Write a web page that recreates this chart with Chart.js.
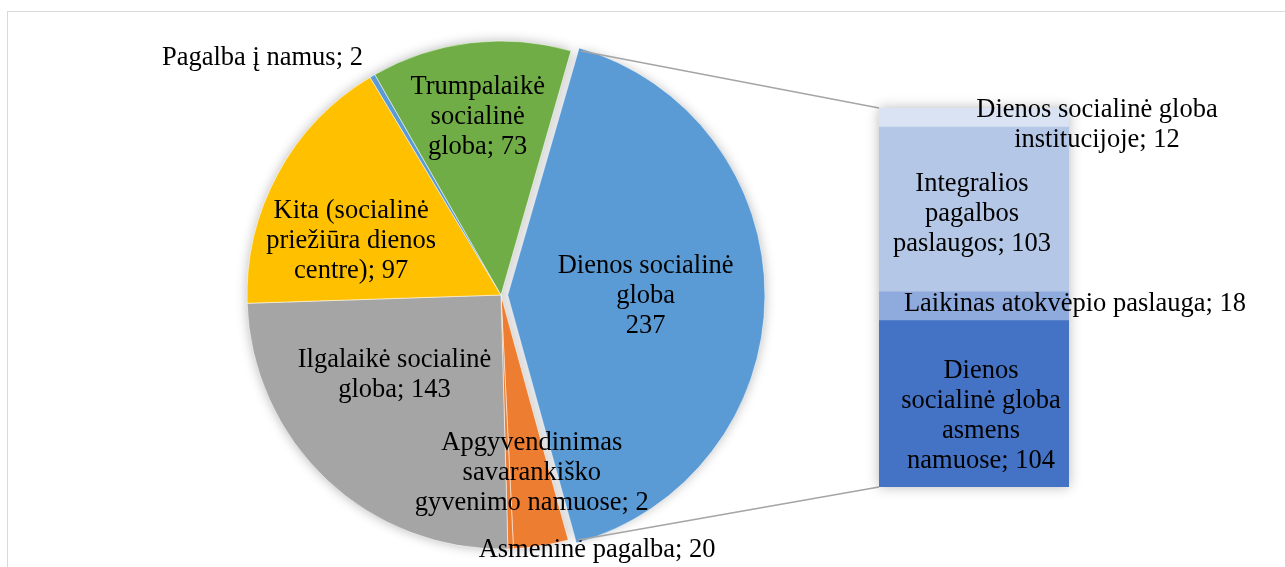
<!DOCTYPE html>
<html>
<head>
<meta charset="utf-8">
<script src="https://cdn.jsdelivr.net/npm/chart.js@4.4.0/dist/chart.umd.min.js"></script>
<style>
html, body { margin: 0; padding: 0; background: #fff; overflow: hidden; }
#wrap { position: relative; width: 1285px; height: 567px; overflow: hidden; }
#frame { position: absolute; left: 7px; top: 11px; width: 1300px; height: 600px; border: 1px solid #d9d9d9; }
canvas { position: absolute; left: 0; top: 0; }
</style>
</head>
<body>
<div id="wrap">
  <div id="frame"></div>
  <canvas id="pie" width="1285" height="567"></canvas>
  <canvas id="bar" width="1285" height="567"></canvas>
</div>
<script>
// pie slices, clockwise from the split slice
const pieCategories = ['Dienos socialinė\ngloba', 'Asmeninė pagalba', 'Apgyvendinimas\nsavarankiško\ngyvenimo namuose',
  'Ilgalaikė socialinė\ngloba', 'Kita (socialinė\npriežiūra dienos\ncentre)', 'Pagalba į namus', 'Trumpalaikė\nsocialinė\ngloba']
const pieValues = [237, 20, 2, 143, 97, 2, 73]
const pieColors = ['#5B9BD5', '#ED7D31', '#ED7D31', '#A5A5A5', '#FFC000', '#5B9BD5', '#70AD47']

// bar that splits "Dienos socialinė globa", bottom -> top
const barCategories = ['Dienos\nsocialinė globa\nasmens\nnamuose', 'Laikinas atokvėpio paslauga',
  'Integralios\npagalbos\npaslaugos', 'Dienos socialinė globa\ninstitucijoje']
const barValues = [104, 18, 103, 12]
const barColors = ['#4472C4', '#8FAADC', '#B4C7E7', '#DAE3F3']

const FONT = '26.5px "Liberation Serif", "Times New Roman", serif'
const LINE = 30
const SHADOW = 'rgba(0,0,0,0.28)'

// label placement: radius fraction + nudge (pie), nudge from segment centre (bar)
const pieLabelPos = [[0.53, 0, 0], [1.0, 56, 4], [0.7, 24, 0], [0.6, -2, -31], [0.6, -16, 19], [1.0, -110, -18], [0.7, -2, -1]]
const barLabelPos = [[7, 12], [101, -2], [-2, 5], [123, 7]]

function drawBlock(ctx, text, x, y) {
  const lines = text.split('\n')
  ctx.save()
  ctx.font = FONT
  ctx.fillStyle = '#000'
  ctx.textAlign = 'center'
  ctx.textBaseline = 'middle'
  lines.forEach((l, i) => ctx.fillText(l, x, y + (i - (lines.length - 1) / 2) * LINE))
  ctx.restore()
}

function arcShift(el) {
  const off = (el.options.offset || 0) / 4
  const circ = el.endAngle - el.startAngle
  return off * (2 - Math.sin(Math.min(Math.PI, circ)))
}

// one soft shadow under the whole pie (no bands between slices)
const pieShadow = {
  id: 'pieShadow',
  beforeDatasetsDraw(chart) {
    const ctx = chart.ctx
    ctx.save()
    ctx.shadowColor = SHADOW
    ctx.shadowBlur = 12
    ctx.fillStyle = '#ffffff'
    ctx.beginPath()
    chart.getDatasetMeta(0).data.forEach(el => {
      const mid = (el.startAngle + el.endAngle) / 2
      const s = arcShift(el)
      const x = el.x + Math.cos(mid) * s
      const y = el.y + Math.sin(mid) * s
      ctx.moveTo(x, y)
      ctx.arc(x, y, el.outerRadius, el.startAngle, el.endAngle)
      ctx.closePath()
    })
    ctx.fill()
    ctx.restore()
  }
}

const pieLabels = {
  id: 'pieLabels',
  afterDraw(chart) {
    const ctx = chart.ctx
    chart.getDatasetMeta(0).data.forEach((el, i) => {
      const mid = (el.startAngle + el.endAngle) / 2
      const s = arcShift(el)
      const [f, dx, dy] = pieLabelPos[i]
      const r = el.outerRadius * f + s
      const text = pieCategories[i] + (i === 0 ? '\n' : '; ') + pieValues[i]
      drawBlock(ctx, text, el.x + Math.cos(mid) * r + dx, el.y + Math.sin(mid) * r + dy)
    })
  }
}

const pieChart = new Chart(document.getElementById('pie'), {
  type: 'pie',
  data: {
    labels: pieCategories,
    datasets: [{
      data: pieValues,
      backgroundColor: pieColors,
      borderColor: '#ffffff',
      borderWidth: 0.5,
      offset: pieValues.map((v, i) => i === 0 ? 27 : 0)
    }]
  },
  options: {
    responsive: false,
    animation: false,
    rotation: 16,
    radius: 254,
    layout: { padding: { left: 0, right: 283, top: 23, bottom: 0 } },
    plugins: { legend: { display: false }, tooltip: { enabled: false } }
  },
  plugins: [pieShadow, pieLabels]
})

// connector lines + one shadow under the whole bar
const connectors = {
  id: 'connectors',
  beforeDatasetsDraw(chart) {
    const ctx = chart.ctx
    const arc = pieChart.getDatasetMeta(0).data[0]
    const mid = (arc.startAngle + arc.endAngle) / 2
    const s = arcShift(arc)
    const cx = arc.x + Math.cos(mid) * s
    const cy = arc.y + Math.sin(mid) * s
    const R = arc.outerRadius
    const metas = barValues.map((v, i) => chart.getDatasetMeta(i).data[0])
    const top = metas[metas.length - 1]
    const bottom = metas[0]
    const left = top.x - top.width / 2
    ctx.save()
    ctx.strokeStyle = '#A5A5A5'
    ctx.lineWidth = 1.5
    ctx.beginPath()
    ctx.moveTo(cx + Math.cos(arc.startAngle) * R, cy + Math.sin(arc.startAngle) * R)
    ctx.lineTo(left, top.y)
    ctx.moveTo(cx + Math.cos(arc.endAngle) * R, cy + Math.sin(arc.endAngle) * R)
    ctx.lineTo(left, bottom.base)
    ctx.stroke()
    ctx.shadowColor = SHADOW
    ctx.shadowBlur = 12
    ctx.fillStyle = '#ffffff'
    ctx.fillRect(left, top.y, top.width, bottom.base - top.y)
    ctx.restore()
  }
}

const barLabels = {
  id: 'barLabels',
  afterDraw(chart) {
    const ctx = chart.ctx
    barValues.forEach((v, i) => {
      const el = chart.getDatasetMeta(i).data[0]
      const [dx, dy] = barLabelPos[i]
      drawBlock(ctx, barCategories[i] + '; ' + v, el.x + dx, (el.y + el.base) / 2 + dy)
    })
  }
}

new Chart(document.getElementById('bar'), {
  type: 'bar',
  data: {
    labels: [''],
    datasets: barValues.map((v, i) => ({
      label: barCategories[i],
      data: [v],
      backgroundColor: barColors[i],
      borderWidth: 0,
      barPercentage: 1,
      categoryPercentage: 1
    }))
  },
  options: {
    responsive: false,
    animation: false,
    layout: { padding: { left: 879, right: 216, top: 108, bottom: 80 } },
    scales: {
      x: { stacked: true, display: false },
      y: { stacked: true, display: false, min: 0, max: barValues.reduce((a, b) => a + b, 0) }
    },
    plugins: { legend: { display: false }, tooltip: { enabled: false } }
  },
  plugins: [connectors, barLabels]
})
</script>
</body>
</html>
